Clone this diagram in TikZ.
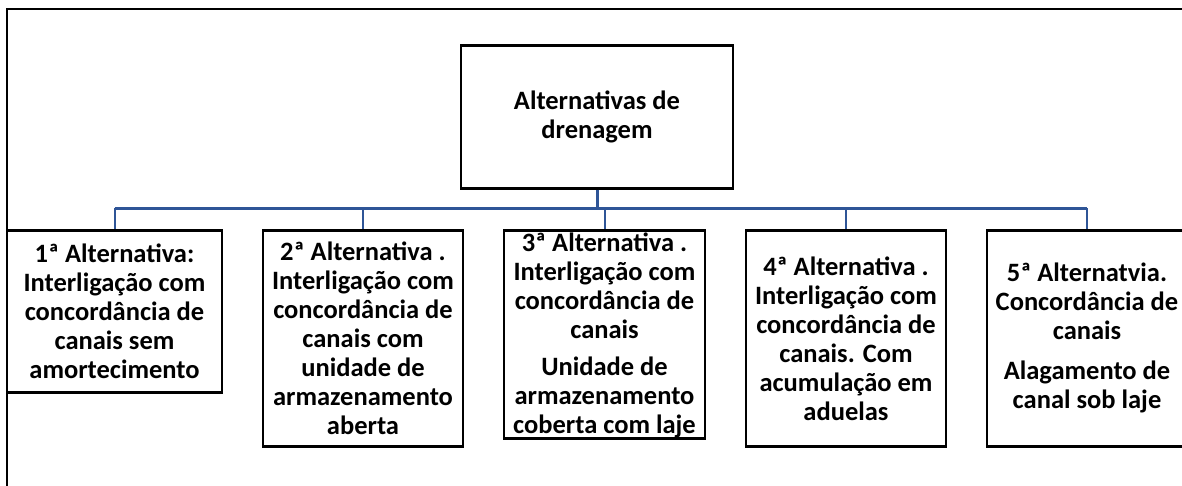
\documentclass[tikz,border=0pt]{standalone}
\usepackage{fontspec}
\setmainfont{Carlito}
\definecolor{busblue}{RGB}{47,85,151}
\begin{document}
\begin{tikzpicture}[x=1pt,y=-1pt,
  txt/.style={align=center,inner sep=0pt,font=\fontsize{26.5}{29}\selectfont\bfseries},
  box/.style={txt,draw=black,line width=2.6pt,fill=white,anchor=north,minimum width=200pt,minimum height=216pt},
  bus/.style={draw=busblue,line width=3pt},
  drop/.style={draw=busblue,line width=2pt},
  frame/.style={draw=black,line width=2pt}]
\useasboundingbox (0,0) rectangle (1182,485);
\draw[frame] (7,490) -- (7,9) -- (1190,9);
\node[box,minimum width=272pt,minimum height=143pt] (top) at (597,44) {Alternativas de\\drenagem};
\node[box,minimum width=215pt,minimum height=162pt] (b1) at (114.5,229)
  {1ª Alternativa:\\Interligação com\\concordância de\\canais sem\\amortecimento};
\node[box] (b2) at (363,229)
  {2ª Alternativa .\\Interligação com\\concordância de\\canais com\\unidade de\\armazenamento\\aberta};
\node[box,minimum width=201pt,minimum height=208pt] (b3) at (604.5,229) {};
\node[txt] at ([yshift=-1pt]b3.center)
  {3ª Alternativa .\\Interligação com\\concordância de\\canais\\[8pt]Unidade de\\armazenamento\\coberta com laje};
\node[box] (b4) at (846,229)
  {4ª Alternativa .\\Interligação com\\concordância de\\canais. Com\\acumulação em\\aduelas};
\node[box] (b5) at (1087,229)
  {5ª Alternatvia.\\Concordância de\\canais\\[11pt]Alagamento de\\canal sob laje};
\coordinate (busy) at (0,208);
\draw[bus] (top.south) -- (top.south |- busy);
\draw[bus] (b1.north |- busy) -- (b5.north |- busy);
\foreach \b in {b1,b2,b3,b4,b5}
  \draw[drop] (\b.north |- busy) -- (\b.north);
\end{tikzpicture}
\end{document}
